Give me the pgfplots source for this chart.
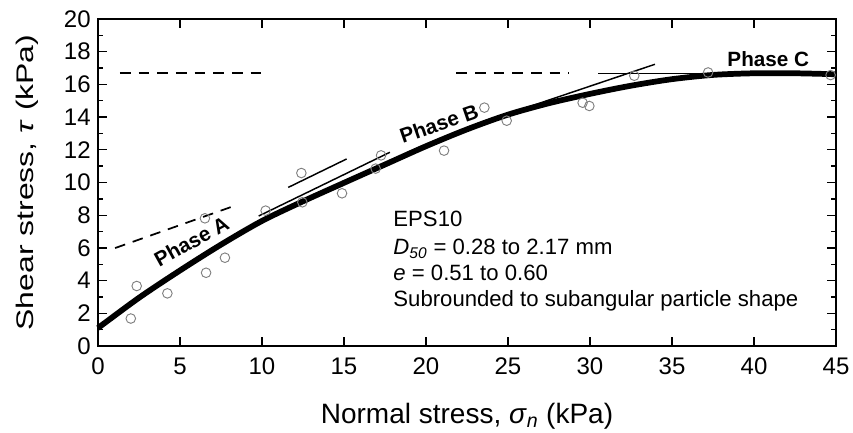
\documentclass[border=0pt]{standalone}
\usepackage{fontspec}
\setmainfont{Liberation Sans}
\newfontfamily\ylabfont[FakeStretch=1.33]{Liberation Sans}
\usepackage{pgfplots}
\pgfplotsset{compat=1.18}
\begin{document}
\begin{tikzpicture}
\begin{axis}[
  scale only axis, width=553.5pt, height=245.25pt,
  xmin=0, xmax=45, ymin=0, ymax=20,
  xtick={0,5,...,45}, ytick={0,2,...,20}, minor ytick={1,3,...,19},
  tick align=inside, major tick length=6.5pt, minor tick length=4pt,
  axis line style={line width=1.2pt},
  every tick/.style={line width=1pt, black},
  /pgf/number format/assume math mode=true,
  xticklabel style={font=\fontsize{18}{20}\selectfont, yshift=-5.5pt},
  yticklabel style={font=\fontsize{18}{20}\selectfont, xshift=-2pt},
  xlabel={\fontsize{21}{24}\selectfont Normal stress, \textit{σ}\textsubscript{\textit{n}} (kPa)},
  ylabel={\fontsize{18}{20}\ylabfont Shear stress, \textit{τ} (kPa)},
  xlabel style={at={(axis description cs:0.5,-0.2355)}, anchor=base},
  ylabel style={at={(axis description cs:-0.0962,0.5)}, anchor=center},
  clip=false,
]
\coordinate (sw) at (rel axis cs:0,0);
\coordinate (ne) at (rel axis cs:1,1);
% main fitted curve
\addplot[line width=4.3pt, smooth, black] coordinates {
(0,1.1)(2.5,2.95)(5,4.62)(7.5,6.2)(10,7.65)(12.5,8.85)(15,9.98)(17.5,11.1)
(20,12.22)(22.5,13.25)(25,14.15)(27.5,14.85)(30,15.42)(32.5,15.92)(35,16.32)
(37.5,16.58)(40,16.68)(42.5,16.68)(45,16.62)};
% thin tangent lines
\addplot[line width=1.1pt, black] coordinates {(9.8,7.95)(17.8,11.85)};
\addplot[line width=1.1pt, black] coordinates {(11.6,9.7)(15.16,11.44)};
\addplot[line width=1.1pt, black] coordinates {(25,14.2)(33.96,17.23)};
\addplot[line width=1.1pt, black] coordinates {(30.5,16.68)(44.9,16.68)};
% dashed lines
\addplot[line width=1.3pt, black, dash pattern=on 8pt off 6pt] coordinates {(1.34,16.68)(9.98,16.68)};
\addplot[line width=1.3pt, black, dash pattern=on 8pt off 6pt] coordinates {(21.85,16.68)(28.7,16.68)};
\addplot[line width=1.3pt, black, dash pattern=on 8pt off 6pt] coordinates {(1.04,5.99)(8.45,8.62)};
% data points
\addplot[only marks, mark=o, mark size=3.6pt, black!50, mark options={line width=0.7pt}] coordinates {
(2.0,1.68)(2.36,3.67)(4.23,3.22)(6.59,4.48)(6.52,7.81)(7.74,5.40)
(10.22,8.28)(12.46,8.79)(12.40,10.58)(14.88,9.34)(16.93,10.85)(17.26,11.66)
(21.1,11.95)(23.56,14.58)(24.92,13.78)(29.55,14.88)(29.96,14.68)
(32.7,16.53)(37.2,16.73)(44.67,16.57)};
% labels
\node[font=\fontsize{15.5}{18}\selectfont\bfseries, rotate=29] at (axis cs:5.7,6.4) {Phase A};
\node[font=\fontsize{15.5}{18}\selectfont\bfseries, rotate=19] at (axis cs:20.8,13.6) {Phase B};
\node[font=\fontsize{15.5}{18}\selectfont\bfseries] at (axis cs:40.87,17.53) {Phase C};
\node[font=\fontsize{16.6}{18}\selectfont, anchor=base west, inner sep=0pt] at (axis cs:18,7.30) {EPS10};
\node[font=\fontsize{16.6}{18}\selectfont, anchor=base west, inner sep=0pt] at (axis cs:18,5.57) {\textit{D}\textsubscript{\textit{50}} = 0.28 to 2.17 mm};
\node[font=\fontsize{16.6}{18}\selectfont, anchor=base west, inner sep=0pt] at (axis cs:18,3.98) {\textit{e} = 0.51 to 0.60};
\node[font=\fontsize{16.6}{18}\selectfont, anchor=base west, inner sep=0pt] at (axis cs:18,2.40) {Subrounded to subangular particle shape};
\end{axis}
\pgfresetboundingbox
\path ([xshift=-73.5pt,yshift=-64.5pt]sw) rectangle ([xshift=12.75pt,yshift=14.25pt]ne);
\end{tikzpicture}
\end{document}
